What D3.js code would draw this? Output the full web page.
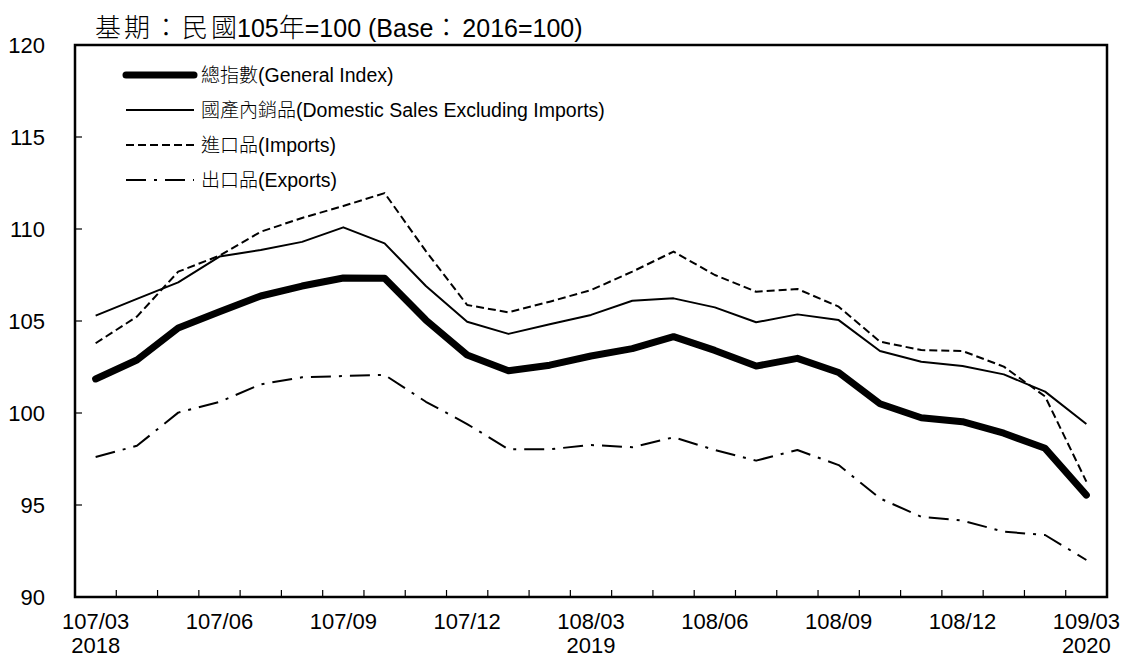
<!DOCTYPE html>
<html>
<head>
<meta charset="utf-8">
<script src="https://cdn.jsdelivr.net/npm/d3@7"></script>
<style>
    body { margin: 0; background: #fff; }
    text { font-family: "Liberation Sans", Arial, "Noto Sans CJK TC", sans-serif; fill: #000; }
    .cjk { font-family: "Noto Sans CJK TC", sans-serif; font-weight: 300; }
</style>
</head>
<body>
<svg id="chart" width="1123" height="659"></svg>
<script>
"use strict"

// months 107/03 .. 109/03 (ROC calendar)
let months = ["107/03","107/04","107/05","107/06","107/07","107/08","107/09","107/10","107/11","107/12",
    "108/01","108/02","108/03","108/04","108/05","108/06","108/07","108/08","108/09","108/10","108/11","108/12",
    "109/01","109/02","109/03"];
let tickMonths = ["107/03","107/06","107/09","107/12","108/03","108/06","108/09","108/12","109/03"];
let yearLabels = { "107/03": "2018", "108/03": "2019", "109/03": "2020" };
let yTicks = [90, 95, 100, 105, 110, 115, 120];

let generalIndex = [101.85, 102.88, 104.62, 105.5, 106.36, 106.9, 107.34, 107.32, 105.05, 103.15,
    102.3, 102.6, 103.1, 103.5, 104.15, 103.4, 102.55, 102.97, 102.2, 100.5, 99.74, 99.53, 98.9, 98.08, 95.54];
let domestic = [105.29, 106.2, 107.1, 108.5, 108.86, 109.3, 110.09, 109.22, 106.9, 104.96,
    104.3, 104.82, 105.33, 106.1, 106.23, 105.74, 104.93, 105.36, 105.05, 103.37, 102.79, 102.55, 102.1, 101.16, 99.4];
let imports = [103.79, 105.24, 107.68, 108.55, 109.85, 110.6, 111.25, 111.95, 108.8, 105.87,
    105.47, 106.05, 106.68, 107.68, 108.77, 107.5, 106.59, 106.74, 105.78, 103.88, 103.42, 103.37, 102.52, 100.9, 96.27];
let exports = [97.61, 98.22, 100.02, 100.6, 101.56, 101.94, 102.01, 102.07, 100.61, 99.4,
    98.03, 98.03, 98.26, 98.14, 98.68, 97.99, 97.41, 97.99, 97.17, 95.36, 94.36, 94.15, 93.55, 93.37, 92.01];

let seriesNames = [
    { cjk: "總指數", en: "(General Index)" },
    { cjk: "國產內銷品", en: "(Domestic Sales Excluding Imports)" },
    { cjk: "進口品", en: "(Imports)" },
    { cjk: "出口品", en: "(Exports)" }
];

// line styles per series
let styles = [
    { width: 7, dash: null, cap: "round" },
    { width: 2, dash: null, cap: "butt" },
    { width: 2, dash: "8,4", cap: "butt" },
    { width: 2, dash: "20,8,3,8", cap: "butt" }
];

let svg = d3.select("#chart");
let margin = { left: 75, right: 16, top: 45, bottom: 62 };
let width = 1123 - margin.left - margin.right;
let height = 659 - margin.top - margin.bottom;

let g = svg.append("g")
    .attr("transform", "translate(" + margin.left + "," + margin.top + ")");

let x = d3.scaleBand().domain(months).range([0, width]);
let y = d3.scaleLinear().domain([90, 120]).range([height, 0]);

// title, mixed cjk / latin
let titleParts = [
    { t: "基期：民國", cjk: true }, { t: "105" }, { t: "年", cjk: true },
    { t: "=100 (Base" }, { t: "：", cjk: true }, { t: "2016=100)" }
];
let title = svg.append("text")
    .attr("x", 95)
    .attr("y", 37)
    .attr("font-size", 25);
titleParts.forEach(function (p, i) {
    let ts = title.append("tspan").text(p.t);
    if (p.cjk) ts.attr("class", "cjk").attr("font-size", 26).attr("letter-spacing", 3);
    // pull latin text back over the trailing cjk spacing
    else if (i > 0 && p.t[0] !== "2") ts.attr("dx", -3);
});

// frame
g.append("rect")
    .attr("width", width)
    .attr("height", height)
    .attr("fill", "none")
    .attr("stroke", "#000")
    .attr("stroke-width", 2.5);

// y ticks (inward) and labels
g.selectAll(".ytick")
    .data(yTicks.filter(function (d) { return d > 90 && d < 120; }))
    .enter().append("line")
    .attr("x1", 0).attr("x2", 7)
    .attr("y1", function (d) { return y(d); })
    .attr("y2", function (d) { return y(d); })
    .attr("stroke", "#000")
    .attr("stroke-width", 1.2);

g.selectAll(".ylabel")
    .data(yTicks)
    .enter().append("text")
    .attr("x", -30)
    .attr("y", function (d) { return y(d); })
    .attr("dy", "0.36em")
    .attr("text-anchor", "end")
    .attr("font-size", 22)
    .text(function (d) { return d; });

// x ticks at band edges (inward)
g.selectAll(".xtick")
    .data(months.slice(1))
    .enter().append("line")
    .attr("x1", function (d) { return x(d); })
    .attr("x2", function (d) { return x(d); })
    .attr("y1", height).attr("y2", height - 7)
    .attr("stroke", "#000")
    .attr("stroke-width", 1.2);

g.selectAll(".xlabel")
    .data(tickMonths)
    .enter().append("text")
    .attr("x", function (d) { return x(d) + x.bandwidth() / 2; })
    .attr("y", height + 32)
    .attr("text-anchor", "middle")
    .attr("font-size", 22)
    .text(function (d) { return d; });

g.selectAll(".year")
    .data(tickMonths.filter(function (d) { return yearLabels[d]; }))
    .enter().append("text")
    .attr("x", function (d) { return x(d) + x.bandwidth() / 2; })
    .attr("y", height + 56)
    .attr("text-anchor", "middle")
    .attr("font-size", 22)
    .text(function (d) { return yearLabels[d]; });

// lines
let line = d3.line()
    .x(function (d, i) { return x(months[i]) + x.bandwidth() / 2; })
    .y(function (d) { return y(d); });

let allSeries = [generalIndex, domestic, imports, exports];
allSeries.forEach(function (s, k) {
    let st = styles[k];
    let p = g.append("path")
        .datum(s)
        .attr("d", line)
        .attr("fill", "none")
        .attr("stroke", "#000")
        .attr("stroke-width", st.width)
        .attr("stroke-linejoin", "round")
        .attr("stroke-linecap", st.cap);
    if (st.dash) p.attr("stroke-dasharray", st.dash);
});

// legend
let legend = svg.append("g");
seriesNames.forEach(function (n, k) {
    let st = styles[k];
    let ly = 75 + k * 35;
    let l = legend.append("line")
        .attr("x1", 126).attr("x2", 194)
        .attr("y1", ly).attr("y2", ly)
        .attr("stroke", "#000")
        .attr("stroke-width", st.width)
        .attr("stroke-linecap", st.cap);
    if (st.dash) l.attr("stroke-dasharray", st.dash);

    let t = legend.append("text")
        .attr("x", 201)
        .attr("y", ly)
        .attr("dy", "0.35em")
        .attr("font-size", 19.5);
    t.append("tspan").attr("class", "cjk").attr("font-size", 19).text(n.cjk);
    t.append("tspan").text(n.en);
});
</script>
</body>
</html>
